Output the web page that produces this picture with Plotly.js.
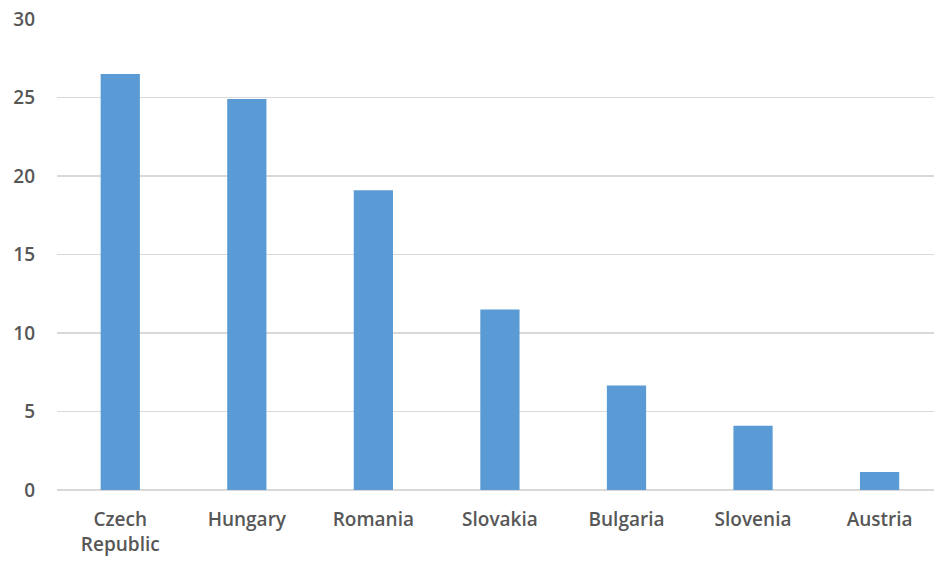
<!DOCTYPE html>
<html>
<head>
<meta charset="utf-8">
<script src="https://cdn.plot.ly/plotly-3.0.1.min.js"></script>
<style>html,body{margin:0;padding:0;background:#fff;}#chart{width:934px;height:562px;}</style>
</head>
<body>
<div id="chart"></div>
<script>
const categories = ["Czech<br>Republic", "Hungary", "Romania", "Slovakia", "Bulgaria", "Slovenia", "Austria"];
const values = [26.5, 24.9, 19.1, 11.5, 6.65, 4.1, 1.15];
const yTicks = [0, 5, 10, 15, 20, 25, 30];

const trace = {
  type: "bar",
  x: categories,
  y: values,
  marker: {color: "#5B9BD5"},
  hoverinfo: "x+y"
};

const tickFont = {family: "Open Sans, Liberation Sans, sans-serif", size: 19, color: "#575757", weight: 600};

const layout = {
  width: 934,
  height: 562,
  margin: {l: 57, r: 0, t: 19, b: 71.5},
  paper_bgcolor: "#ffffff",
  plot_bgcolor: "#ffffff",
  bargap: 0.69,
  showlegend: false,
  font: tickFont,
  xaxis: {
    range: [-0.5, 6.43],
    showgrid: false,
    showline: false,
    ticks: "",
    ticklabelstandoff: 16,
    tickfont: tickFont,
    fixedrange: true
  },
  yaxis: {
    range: [0, 30],
    tickvals: yTicks,
    ticktext: yTicks.map(String),
    showgrid: true,
    gridcolor: "#d9d9d9",
    gridwidth: 1.5,
    zeroline: true,
    zerolinecolor: "#d9d9d9",
    zerolinewidth: 1.5,
    showline: false,
    ticks: "",
    ticklabelstandoff: 21,
    tickfont: tickFont,
    fixedrange: true
  }
};

Plotly.newPlot("chart", [trace], layout, {displayModeBar: false, staticPlot: true});
</script>
</body>
</html>
